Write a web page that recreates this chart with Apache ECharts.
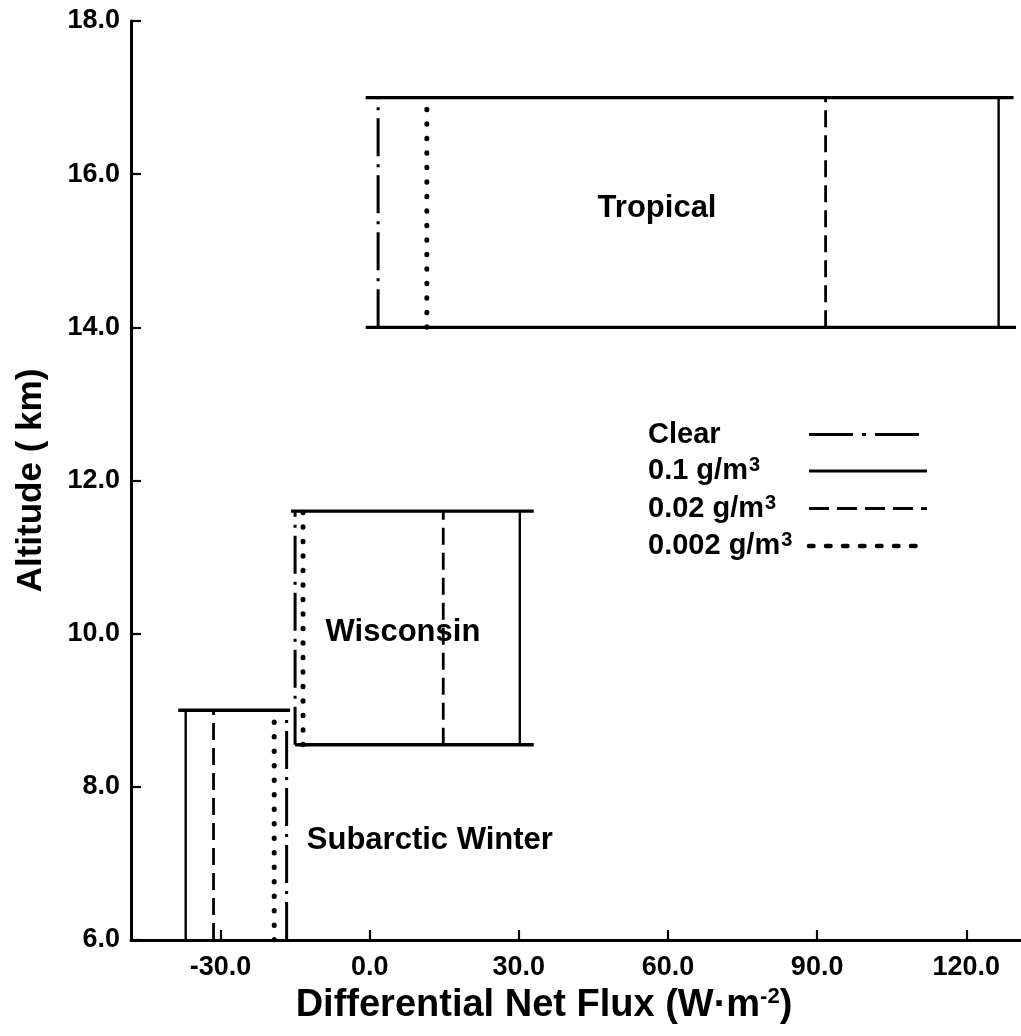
<!DOCTYPE html>
<html>
<head>
<meta charset="utf-8">
<script src="https://cdn.jsdelivr.net/npm/echarts@6/dist/echarts.min.js"></script>
<style>
html,body{margin:0;padding:0;background:#fff;}
#chart{width:1021px;height:1036px;}
</style>
</head>
<body>
<div id="chart"></div>
<script>
// ---- data ----
const regions = ['Subarctic Winter', 'Wisconsin', 'Tropical'];
const bottomKm = [6.0, 8.55, 14.0];
const topKm = [9.0, 11.6, 17.0];
// flux (W m-2) for each cloud case, per region
const fluxClear = [-16.7, -15.0, 1.7];
const flux01 = [-37.0, 30.2, 126.5];
const flux002 = [-31.4, 14.8, 91.7];
const flux0002 = [-19.2, -13.4, 11.5];
// horizontal box edges
const topEdgeFrom = [-38.5, -15.8, -0.8];
const topEdgeTo = [-16.0, 33.0, 129.5];
const bottomEdgeFrom = [null, -15.0, -0.8];
const bottomEdgeTo = [null, 33.0, 130.0];
// region label anchors
const labelX = [12.1, 6.7, 57.8];
const labelY = [7.3, 10.02, 15.55];
// axes ticks
const xTicks = [-30, 0, 30, 60, 90, 120];
const caseNames = ['Clear', '0.1 g/m3', '0.02 g/m3', '0.002 g/m3'];

const FONT = 'Liberation Sans';

function verticals(flux) {
  const d = [];
  flux.forEach((x, i) => {
    if (i > 0) d.push(null);
    d.push([x, bottomKm[i]], [x, topKm[i]]);
  });
  return d;
}
function edges() {
  const d = [];
  regions.forEach((r, i) => {
    if (d.length) d.push(null);
    d.push([topEdgeFrom[i], topKm[i]], [topEdgeTo[i], topKm[i]]);
    if (bottomEdgeFrom[i] !== null) {
      d.push(null, [bottomEdgeFrom[i], bottomKm[i]], [bottomEdgeTo[i], bottomKm[i]]);
    }
  });
  return d;
}

const styles = [
  {type: [38, 8, 3, 8], width: 3, cap: 'butt'},
  {type: 'solid', width: 2.4, cap: 'butt'},
  {type: [17, 8], width: 2.8, cap: 'butt'},
  {type: [0.5, 14], width: 5, cap: 'round'}
];
const legendStyles = [
  {type: [44, 9, 4, 9], width: 3},
  {type: 'solid', width: 3},
  {type: [20, 8], width: 3},
  {type: [4.5, 12.5], width: 4.5}
];
const fluxes = [fluxClear, flux01, flux002, flux0002];

const series = caseNames.map((n, k) => ({
  name: n,
  type: 'line',
  symbol: 'none',
  connectNulls: false,
  data: verticals(fluxes[k]),
  lineStyle: {color: '#000', width: styles[k].width, type: styles[k].type, cap: styles[k].cap},
  itemStyle: {color: '#000'},
  z: 3
}));
series.push({
  name: 'edges',
  type: 'line',
  symbol: 'none',
  connectNulls: false,
  data: edges(),
  lineStyle: {color: '#000', width: 3.4, type: 'solid'},
  z: 4
});
series.push({
  name: 'labels',
  type: 'scatter',
  symbolSize: 0,
  itemStyle: {opacity: 1, color: '#000'},
  data: regions.map((r, i) => ({name: r, value: [labelX[i], labelY[i]]})),
  label: {show: true, position: 'inside', formatter: p => p.name,
    fontFamily: FONT, fontWeight: 'bold', fontSize: 31, color: '#000', opacity: 1},
  z: 5
});

const richBase = {fontFamily: FONT, fontWeight: 'bold', color: '#000', align: 'left'};

const chart = echarts.init(document.getElementById('chart'));
chart.setOption({
  animation: false,
  backgroundColor: '#fff',
  grid: {left: 131, right: 0, top: 21, bottom: 96},
  legend: {
    data: caseNames.map((n, k) => ({name: n, lineStyle: {color: '#000', width: legendStyles[k].width, type: legendStyles[k].type}})),
    orient: 'vertical',
    left: 643,
    top: 414,
    align: 'right',
    itemWidth: 118,
    itemHeight: 14,
    itemGap: 5.5,
    selectedMode: false,
    itemStyle: {color: 'rgba(0,0,0,0)', borderWidth: 0, opacity: 0},
    formatter: n => /3$/.test(n) ? '{t|' + n.slice(0, -1) + '}{s|3}' : '{t|' + n + '}',
    textStyle: {fontFamily: FONT, fontWeight: 'bold', fontSize: 28, color: '#000', width: 156, lineHeight: 31,
      rich: {
        t: Object.assign({fontSize: 29, lineHeight: 31}, richBase),
        s: Object.assign({fontSize: 20, lineHeight: 20, verticalAlign: 'top', padding: [0, 0, 12, 1]}, richBase)
      }}
  },
  xAxis: {
    type: 'value',
    min: -48,
    max: 131,
    name: 'Differential Net Flux (W·m{sup|-2})',
    nameLocation: 'middle',
    nameGap: 44,
    nameTextStyle: {fontFamily: FONT, fontWeight: 'bold', fontSize: 38, color: '#000', padding: [0, 64, 0, 0],
      rich: {sup: {fontFamily: FONT, fontWeight: 'bold', fontSize: 22, color: '#000', verticalAlign: 'top', padding: [0, 0, 18, 0]}}},
    splitLine: {show: false},
    axisLine: {show: true, onZero: false, lineStyle: {color: '#000', width: 3}},
    axisTick: {show: true, inside: true, length: 10, lineStyle: {color: '#000', width: 2.2}, customValues: xTicks},
    axisLabel: {customValues: xTicks, formatter: v => v.toFixed(1), fontFamily: FONT, fontWeight: 'bold', fontSize: 27, color: '#000', margin: 14}
  },
  yAxis: {
    type: 'value',
    min: 6,
    max: 18,
    interval: 2,
    name: 'Altitude ( km)',
    nameLocation: 'middle',
    nameGap: 82,
    nameRotate: 90,
    nameTextStyle: {fontFamily: FONT, fontWeight: 'bold', fontSize: 35, color: '#000'},
    splitLine: {show: false},
    axisLine: {show: true, onZero: false, lineStyle: {color: '#000', width: 3}},
    axisTick: {show: true, inside: true, length: 10, lineStyle: {color: '#000', width: 2.2}},
    axisLabel: {formatter: v => v.toFixed(1), fontFamily: FONT, fontWeight: 'bold', fontSize: 27, color: '#000', margin: 11}
  },
  series: series
});
</script>
</body>
</html>
